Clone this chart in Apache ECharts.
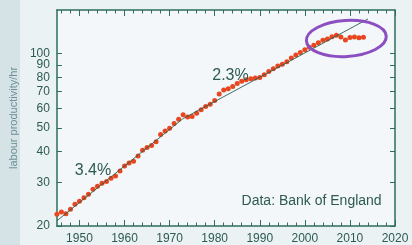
<!DOCTYPE html>
<html>
<head>
<meta charset="utf-8">
<script src="https://cdn.jsdelivr.net/npm/echarts@6/dist/echarts.min.js"></script>
<style>
  html, body { margin: 0; padding: 0; background: #eaf2f4; }
  #chart { width: 412px; height: 245px; }
</style>
</head>
<body>
<div id="chart"></div>
<script>
// labour productivity per hour (log scale)
const years = [1945, 1946, 1947, 1948, 1949, 1950, 1951, 1952, 1953, 1954,
  1955, 1956, 1957, 1958, 1959, 1960, 1961, 1962, 1963, 1964,
  1965, 1966, 1967, 1968, 1969, 1970, 1971, 1972, 1973, 1974,
  1975, 1976, 1977, 1978, 1979, 1980, 1981, 1982, 1983, 1984,
  1985, 1986, 1987, 1988, 1989, 1990, 1991, 1992, 1993, 1994,
  1995, 1996, 1997, 1998, 1999, 2000, 2001, 2002, 2003, 2004,
  2005, 2006, 2007, 2008, 2009, 2010, 2011, 2012, 2013]
const productivity = [22.3, 22.8, 22.4, 23.4, 24.5, 25.2, 26.0, 26.9, 28.2, 29.0,
  29.8, 30.3, 31.2, 31.9, 33.4, 35.0, 36.0, 36.6, 38.4, 40.5,
  41.6, 42.4, 43.9, 47.0, 48.5, 49.8, 52.0, 54.2, 56.4, 55.3,
  55.6, 57.3, 59.2, 61.0, 62.2, 64.5, 68.5, 71.2, 72.0, 73.5,
  75.5, 77.2, 78.2, 79.0, 79.5, 80.0, 82.0, 84.5, 86.8, 89.0,
  90.4, 92.5, 95.8, 98.5, 101.0, 103.5, 106.0, 108.0, 110.5, 113.0,
  114.5, 117.0, 118.5, 116.5, 113.5, 116.0, 116.5, 115.8, 116.2]

// fitted trend: 3.4% then 2.3% per year
const trendYears = [1945, 1973, 2014]
const trendValues = [21, 54.5, 138]

const decadeTicks = [1950, 1960, 1970, 1980, 1990, 2000, 2010, 2020]
const minorYearTicks = [1946, 1948, 1950, 1952, 1954, 1956, 1958, 1960, 1962, 1964,
  1966, 1968, 1970, 1972, 1974, 1976, 1978, 1980, 1982, 1984, 1986, 1988, 1990,
  1992, 1994, 1996, 1998, 2000, 2002, 2004, 2006, 2008, 2010, 2012, 2014, 2016, 2018]
const yTicks = [20, 30, 40, 50, 60, 70, 80, 90, 100]
// labels sit so close together that they are split over two axes,
// otherwise echarts drops one of 90 / 100
const yLabelsA = [20, 30, 40, 50, 60, 70, 80, 100]
const yLabelsB = [90]

const frameColor = '#2f6d5d'
const textColor = '#2d5a52'
const font = 'Liberation Sans'

const myChart = echarts.init(document.getElementById('chart'))

const xAxisBase = (position, withLabels, ticks, len, showLine) => ({
  type: 'value',
  position: position,
  min: 1945,
  max: 2020,
  axisLine: { show: showLine, lineStyle: { color: frameColor, width: 1.5 } },
  axisTick: { inside: true, length: len, customValues: ticks, lineStyle: { color: frameColor, width: 1 } },
  axisLabel: withLabels
    ? {
        customValues: decadeTicks,
        showMinLabel: true,
        showMaxLabel: true,
        formatter: (v) => String(Math.round(v)),
        color: textColor,
        fontFamily: font,
        fontSize: 12,
        margin: 7
      }
    : { show: false },
  splitLine: { show: false }
})

const yAxisBase = (position, labels, showLine) => ({
  type: 'log',
  logBase: 10,
  position: position,
  min: 20,
  max: 150,
  axisLine: { show: showLine, lineStyle: { color: frameColor, width: 1.5 } },
  axisTick: { show: showLine, inside: true, length: 5, customValues: yTicks, lineStyle: { color: frameColor, width: 1 } },
  axisLabel: labels
    ? {
        customValues: labels,
        showMinLabel: true,
        showMaxLabel: true,
        formatter: (v) => String(Math.round(v)),
        color: textColor,
        fontFamily: font,
        fontSize: 12,
        margin: 7
      }
    : { show: false },
  splitLine: { show: false }
})

let option = {
  animation: false,
  backgroundColor: '#eaf2f4',
  grid: {
    left: 47,
    right: 17,
    top: 10,
    bottom: 19,
    show: true,
    backgroundColor: '#f3f7f9',
    borderWidth: 0
  },
  xAxis: [
    xAxisBase('bottom', true, decadeTicks, 6, true),
    xAxisBase('bottom', false, minorYearTicks, 3.5, false),
    xAxisBase('top', false, decadeTicks, 6, true),
    xAxisBase('top', false, minorYearTicks, 3.5, false)
  ],
  yAxis: [
    Object.assign(yAxisBase('left', yLabelsA, true), {
      name: 'labour productivity/hr',
      nameLocation: 'middle',
      nameRotate: 90,
      nameGap: 33,
      nameTextStyle: { color: '#6d9197', fontFamily: font, fontSize: 11 }
    }),
    yAxisBase('right', null, true),
    yAxisBase('left', yLabelsB, false)
  ],
  series: [
    {
      name: 'productivity',
      type: 'scatter',
      xAxisIndex: 0,
      yAxisIndex: 0,
      symbol: 'circle',
      symbolSize: 5,
      itemStyle: { color: '#e8461f', opacity: 1 },
      data: years.map((y, i) => [y, productivity[i]]),
      z: 2
    },
    {
      name: 'trend',
      type: 'line',
      xAxisIndex: 0,
      yAxisIndex: 0,
      symbol: 'none',
      lineStyle: { color: '#2b5e50', width: 0.9 },
      data: trendYears.map((y, i) => [y, trendValues[i]]),
      z: 3
    }
  ]
}
myChart.setOption(option)

// annotations placed through the chart's own scales
const px = (x, y) => myChart.convertToPixel({ xAxisIndex: 0, yAxisIndex: 0 }, [x, y])
const label = (txt, pos, size) => ({
  type: 'text',
  x: pos[0],
  y: pos[1],
  z: 10,
  style: {
    text: txt,
    fill: textColor,
    font: size + 'px "' + font + '"',
    align: 'center',
    verticalAlign: 'middle',
    textAlign: 'center',
    textVerticalAlign: 'middle'
  }
})
const ringPos = px(2009.2, 115)

myChart.setOption({
  graphic: [
    {
      type: 'rect',
      z: -1,
      shape: { x: 0, y: 0, width: 20, height: 245 },
      style: { fill: '#d6e3e6' }
    },
    label('3.4%', px(1953, 33.6), 16),
    label('2.3%', px(1983.5, 81), 16),
    label('Data: Bank of England', px(2001.5, 25.3), 14),
    {
      type: 'ellipse',
      x: ringPos[0],
      y: ringPos[1],
      rotation: 0.06,
      z: 10,
      shape: { cx: 0, cy: 0, rx: 40, ry: 18 },
      style: { fill: 'none', stroke: '#8c4fc2', lineWidth: 3 }
    }
  ]
})

window.onresize = function () {
  if (myChart) {
    myChart.resize()
  }
}
</script>
</body>
</html>
